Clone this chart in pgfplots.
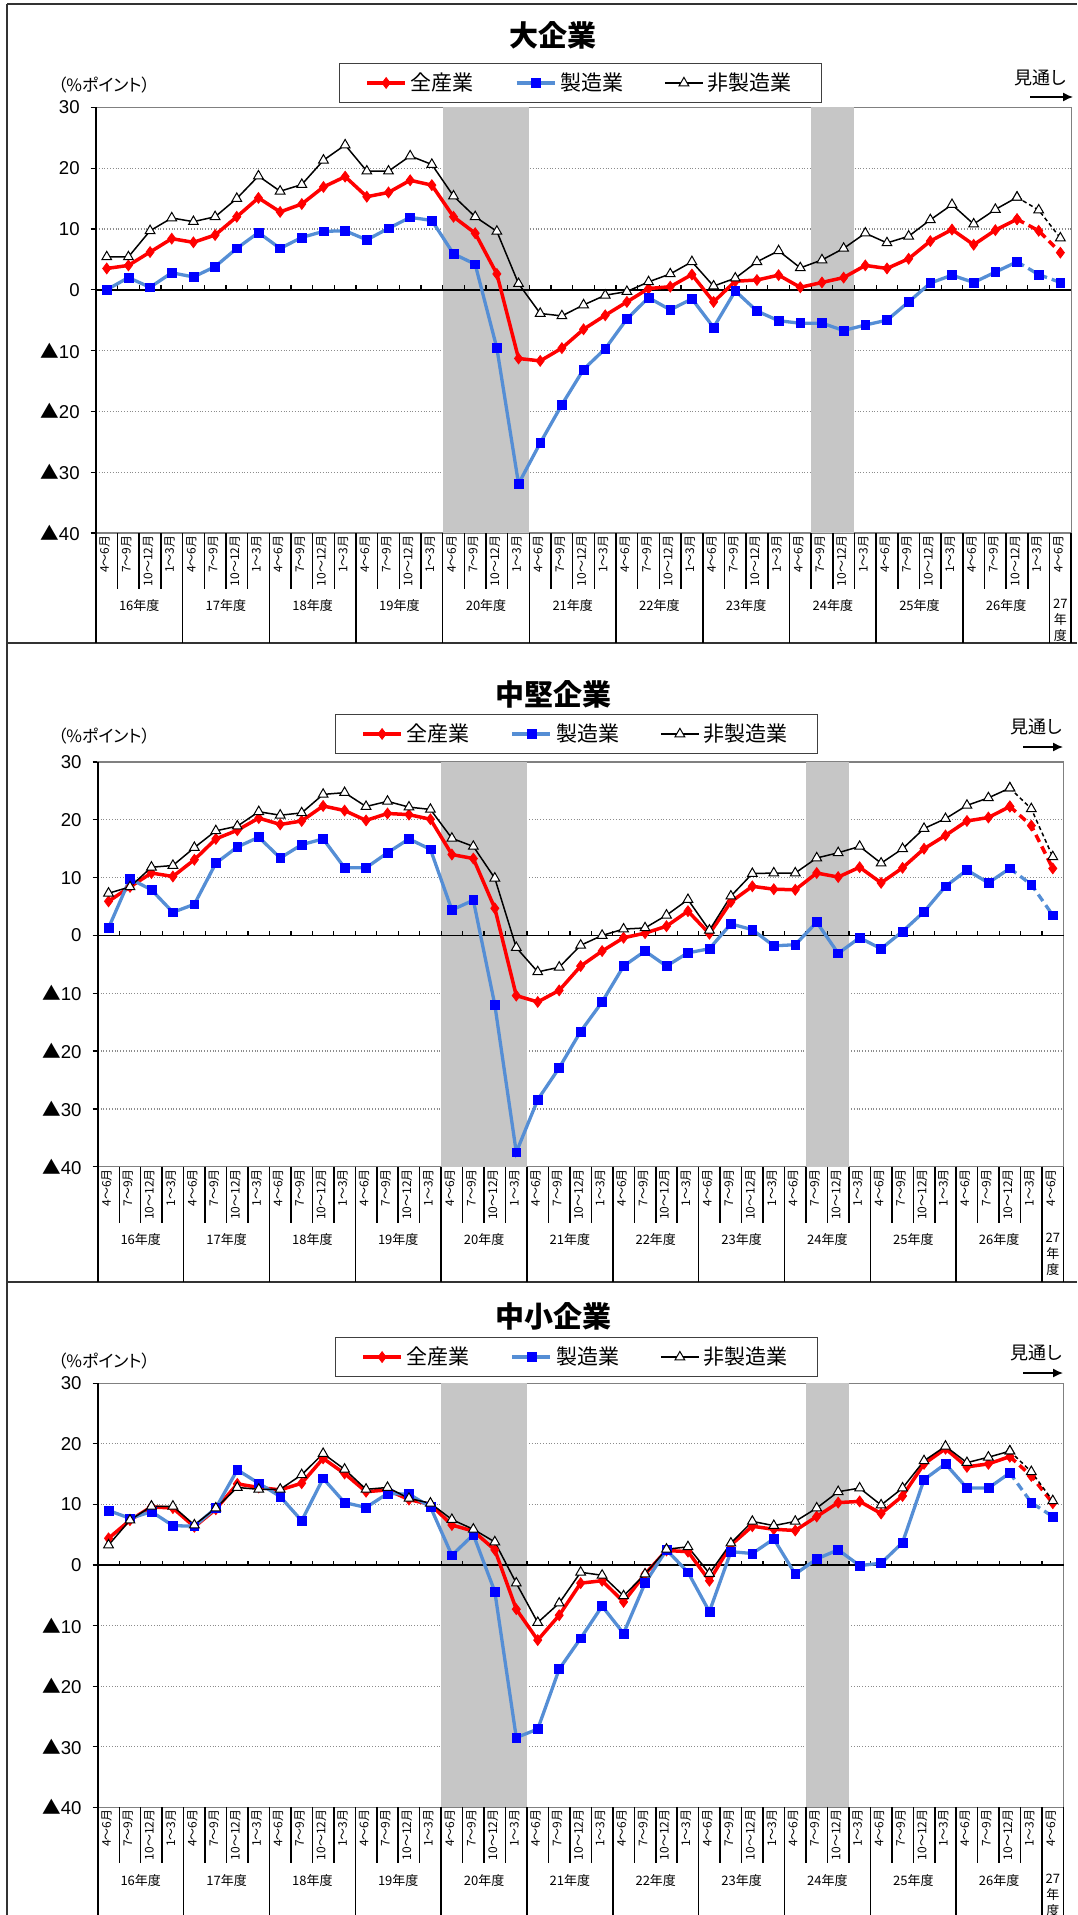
\documentclass[border=0pt]{standalone}
\usepackage{fontspec}
\setmainfont{Liberation Sans}
\newfontfamily\jp{Noto Sans CJK JP}[RawFeature=+palt]
\usepackage{pgfplots}
\pgfplotsset{compat=1.18}
\usepackage{pgfplotstable}
\usetikzlibrary{arrows.meta}

\definecolor{redl}{RGB}{255,0,0}
\definecolor{bluel}{RGB}{85,142,213}
\definecolor{bluem}{RGB}{0,0,255}
\definecolor{bandc}{RGB}{198,198,198}

% x = category centre (i+0.5); a = 全産業, m = 製造業, n = 非製造業
\pgfplotstableread{
x a m n
0.5 3.5 0.0 5.4
1.5 4.0 2.0 5.4
2.5 6.2 0.4 9.7
3.5 8.4 2.8 11.8
4.5 7.8 2.1 11.2
5.5 9.0 3.8 12.0
6.5 12.0 6.8 15.0
7.5 15.1 9.4 18.7
8.5 12.8 6.8 16.2
9.5 14.1 8.6 17.3
10.5 16.9 9.6 21.3
11.5 18.6 9.7 23.8
12.5 15.3 8.2 19.5
13.5 16.0 10.1 19.5
14.5 18.0 11.9 22.0
15.5 17.2 11.4 20.6
16.5 12.0 5.9 15.4
17.5 9.3 4.2 12.0
18.5 2.6 -9.6 9.6
19.5 -11.3 -31.9 1.0
20.5 -11.7 -25.2 -3.9
21.5 -9.6 -18.9 -4.3
22.5 -6.5 -13.1 -2.5
23.5 -4.2 -9.7 -0.9
24.5 -2.0 -4.8 -0.3
25.5 0.2 -1.3 1.3
26.5 0.5 -3.3 2.6
27.5 2.5 -1.5 4.6
28.5 -2.0 -6.2 0.6
29.5 1.4 -0.2 1.9
30.5 1.6 -3.5 4.6
31.5 2.4 -5.1 6.4
32.5 0.4 -5.5 3.6
33.5 1.2 -5.5 4.9
34.5 2.0 -6.7 6.8
35.5 4.0 -5.8 9.3
36.5 3.5 -5.0 7.7
37.5 5.1 -2.0 8.8
38.5 8.0 1.1 11.5
39.5 9.9 2.4 14.0
40.5 7.4 1.2 10.8
41.5 9.8 2.9 13.2
42.5 11.6 4.6 15.2
43.5 9.7 2.5 13.1
44.5 6.1 1.2 8.5
}\tabA

\pgfplotstableread{
x a m n
0.5 5.9 1.3 7.3
1.5 8.4 9.8 8.4
2.5 10.8 7.9 11.8
3.5 10.2 4.0 12.1
4.5 13.1 5.4 15.2
5.5 16.7 12.5 18.1
6.5 18.2 15.3 18.9
7.5 20.3 17.0 21.4
8.5 19.2 13.4 20.8
9.5 19.8 15.7 21.2
10.5 22.4 16.7 24.4
11.5 21.6 11.7 24.7
12.5 19.9 11.7 22.3
13.5 21.1 14.3 23.2
14.5 20.9 16.7 22.2
15.5 20.1 14.9 21.8
16.5 14.0 4.4 16.8
17.5 13.3 6.1 15.4
18.5 4.7 -12.0 9.9
19.5 -10.4 -37.5 -2.1
20.5 -11.5 -28.4 -6.3
21.5 -9.5 -22.9 -5.5
22.5 -5.3 -16.6 -1.7
23.5 -2.7 -11.5 0.0
24.5 -0.4 -5.3 1.1
25.5 0.4 -2.7 1.3
26.5 1.6 -5.3 3.5
27.5 4.2 -3.0 6.2
28.5 0.3 -2.3 0.9
29.5 5.8 2.0 6.8
30.5 8.5 1.0 10.7
31.5 8.0 -1.8 10.8
32.5 7.9 -1.6 10.8
33.5 10.8 2.3 13.4
34.5 10.1 -3.1 14.3
35.5 11.8 -0.4 15.4
36.5 9.1 -2.3 12.5
37.5 11.7 0.7 15.0
38.5 15.0 4.1 18.5
39.5 17.3 8.5 20.2
40.5 19.8 11.3 22.5
41.5 20.4 9.1 23.8
42.5 22.3 11.6 25.5
43.5 19.0 8.8 21.9
44.5 11.6 3.5 13.6
}\tabB

\pgfplotstableread{
x a m n
0.5 4.4 9.0 3.3
1.5 7.4 7.7 7.4
2.5 9.6 8.8 9.7
3.5 9.4 6.5 9.7
4.5 6.3 6.4 6.6
5.5 9.2 9.4 9.4
6.5 13.4 15.7 12.8
7.5 12.8 13.5 12.5
8.5 12.4 11.3 12.5
9.5 13.5 7.3 14.9
10.5 17.6 14.3 18.4
11.5 15.1 10.3 15.8
12.5 12.1 9.5 12.5
13.5 12.4 11.8 12.8
14.5 10.8 11.7 11.0
15.5 10.0 9.6 10.2
16.5 6.6 1.6 7.5
17.5 5.6 5.0 5.9
18.5 2.5 -4.4 3.8
19.5 -7.3 -28.5 -3.0
20.5 -12.4 -27.1 -9.5
21.5 -8.3 -17.2 -6.3
22.5 -3.0 -12.1 -1.2
23.5 -2.6 -6.8 -1.7
24.5 -6.1 -11.3 -5.1
25.5 -1.5 -3.0 -1.5
26.5 2.4 2.5 2.6
27.5 2.2 -1.2 3.0
28.5 -2.6 -7.7 -1.4
29.5 3.3 2.2 3.6
30.5 6.4 1.9 7.2
31.5 5.9 4.3 6.5
32.5 5.7 -1.5 7.2
33.5 8.0 1.0 9.4
34.5 10.3 2.5 12.1
35.5 10.5 -0.1 12.7
36.5 8.5 0.3 9.9
37.5 11.4 3.7 12.7
38.5 16.7 14.1 17.2
39.5 19.2 16.7 19.6
40.5 16.2 12.7 16.9
41.5 16.7 12.7 17.8
42.5 17.9 15.2 18.8
43.5 14.7 10.3 15.4
44.5 10.2 8.0 10.6
}\tabC

\pgfplotsset{
  panel/.style={
    scale only axis, clip=false,
    xmin=0, xmax=45, ymin=-40, ymax=30,
    axis line style={draw=black!50, line width=0.6pt},
    ytick={-40,-30,...,30},
    yticklabels={{\jp ▲}40,{\jp ▲}30,{\jp ▲}20,{\jp ▲}10,0,10,20,30},
    ytick pos=left, ytick align=outside, major tick length=2.6pt,
    major tick style={black, line width=0.6pt},
    ymajorgrids, grid style={densely dotted, black!45, line width=0.6pt},
    yticklabel style={font=\fontsize{9.3}{10}\selectfont, xshift=-2pt},
    xtick={0.5,1.5,...,44.5},
    xticklabels={4～6月,7～9月,10～12月,1～3月,4～6月,7～9月,10～12月,1～3月,4～6月,7～9月,10～12月,1～3月,4～6月,7～9月,10～12月,1～3月,4～6月,7～9月,10～12月,1～3月,4～6月,7～9月,10～12月,1～3月,4～6月,7～9月,10～12月,1～3月,4～6月,7～9月,10～12月,1～3月,4～6月,7～9月,10～12月,1～3月,4～6月,7～9月,10～12月,1～3月,4～6月,7～9月,10～12月,1～3月,4～6月},
    major x tick style={draw=none},
    xticklabel style={rotate=90, anchor=east, font=\jp\fontsize{6}{6}\selectfont, inner sep=1pt, yshift=1pt},
    legend columns=3,
    legend image code/.code={\draw[mark repeat=2,mark phase=2] plot coordinates {(0pt,0pt)(9.5pt,0pt)(19pt,0pt)};},
    legend style={anchor=north, draw=black!75, line width=0.6pt, fill=white,
      inner xsep=13pt, inner ysep=2.5pt,
      font=\jp\fontsize{10.5}{12}\selectfont,
      cells={anchor=west},
      /tikz/every even column/.append style={column sep=18.5pt}},
  }
}

\newcommand{\yearlabels}{%
  \node[font=\jp\fontsize{6.5}{7}\selectfont] at ([yshift=-36.5pt]axis cs:2,-40) {16年度};
  \node[font=\jp\fontsize{6.5}{7}\selectfont] at ([yshift=-36.5pt]axis cs:6,-40) {17年度};
  \node[font=\jp\fontsize{6.5}{7}\selectfont] at ([yshift=-36.5pt]axis cs:10,-40) {18年度};
  \node[font=\jp\fontsize{6.5}{7}\selectfont] at ([yshift=-36.5pt]axis cs:14,-40) {19年度};
  \node[font=\jp\fontsize{6.5}{7}\selectfont] at ([yshift=-36.5pt]axis cs:18,-40) {20年度};
  \node[font=\jp\fontsize{6.5}{7}\selectfont] at ([yshift=-36.5pt]axis cs:22,-40) {21年度};
  \node[font=\jp\fontsize{6.5}{7}\selectfont] at ([yshift=-36.5pt]axis cs:26,-40) {22年度};
  \node[font=\jp\fontsize{6.5}{7}\selectfont] at ([yshift=-36.5pt]axis cs:30,-40) {23年度};
  \node[font=\jp\fontsize{6.5}{7}\selectfont] at ([yshift=-36.5pt]axis cs:34,-40) {24年度};
  \node[font=\jp\fontsize{6.5}{7}\selectfont] at ([yshift=-36.5pt]axis cs:38,-40) {25年度};
  \node[font=\jp\fontsize{6.5}{7}\selectfont] at ([yshift=-36.5pt]axis cs:42,-40) {26年度};
  \node[font=\jp\fontsize{6.5}{8}\selectfont, align=center, anchor=north, inner sep=0pt] at ([yshift=-33pt]axis cs:44.5,-40) {27\\年\\度};
}

\newcommand{\panelbody}[2]{%
  \fill[bandc] (axis cs:16,-40) rectangle (axis cs:20,30);
  \fill[bandc] (axis cs:33,-40) rectangle (axis cs:35,30);
  \draw[black, line width=0.9pt] (axis cs:0,0) -- (axis cs:45,0);
  \pgfplotsinvokeforeach{1,...,44}{\draw[black, line width=0.6pt] (axis cs:##1,0) -- ([yshift=2.2pt]axis cs:##1,0);}
  \draw[black, line width=0.8pt] (axis cs:0,-40) -- (axis cs:0,30);
  \pgfplotsinvokeforeach{0,...,45}{\draw[black, line width=0.75pt] (axis cs:##1,-40) -- ([yshift=-28pt]axis cs:##1,-40);}
  \pgfplotsinvokeforeach{0,4,...,44}{\draw[black, line width=0.75pt] (axis cs:##1,-40) -- ([yshift=-#2]axis cs:##1,-40);}
  \draw[black, line width=0.75pt] (axis cs:45,-40) -- ([yshift=-#2]axis cs:45,-40);
  \yearlabels
  % 全産業
  \addplot[redl, line width=1.75pt, mark=diamond*, mark size=2.7pt,
    mark options={solid, fill=redl, draw=redl, line width=0.4pt},
    skip coords between index={43}{45}] table[x=x, y=a] {#1};
  \addlegendentry{全産業}
  \addplot[redl, line width=1.75pt, dash pattern=on 4pt off 2.5pt, mark=diamond*, mark size=2.7pt,
    mark options={solid, fill=redl, draw=redl, line width=0.4pt},
    skip coords between index={0}{42}, forget plot] table[x=x, y=a] {#1};
  % 製造業
  \addplot[bluel, line width=1.65pt, mark=square*, mark size=2.2pt,
    mark options={solid, fill=bluem, draw=bluem, line width=0.3pt},
    skip coords between index={43}{45}] table[x=x, y=m] {#1};
  \addlegendentry{製造業}
  \addplot[bluel, line width=1.65pt, dash pattern=on 4pt off 2.5pt, mark=square*, mark size=2.2pt,
    mark options={solid, fill=bluem, draw=bluem, line width=0.3pt},
    skip coords between index={0}{42}, forget plot] table[x=x, y=m] {#1};
  % 非製造業
  \addplot[black, line width=0.75pt, mark=triangle*, mark size=2.8pt,
    mark options={solid, fill=white, draw=black, line width=0.5pt},
    skip coords between index={43}{45}] table[x=x, y=n] {#1};
  \addlegendentry{非製造業}
  \addplot[black, line width=0.75pt, dash pattern=on 2pt off 1.5pt, mark=triangle*, mark size=2.8pt,
    mark options={solid, fill=white, draw=black, line width=0.5pt},
    skip coords between index={0}{42}, forget plot] table[x=x, y=n] {#1};
}

\begin{document}
\begin{tikzpicture}
\useasboundingbox (0pt,0pt) rectangle (538.5pt,-957.5pt);

% outer frame
\draw[black!80, line width=0.6pt] (3.5pt,-2pt) -- (538.5pt,-2pt);
\draw[black!80, line width=0.6pt] (3.5pt,-2pt) -- (3.5pt,-957.5pt);
\draw[black!80, line width=0.6pt] (3.5pt,-321.5pt) -- (538.5pt,-321.5pt);
\draw[black!80, line width=0.6pt] (3.5pt,-641pt) -- (538.5pt,-641pt);

% ---------- panel 1 ----------
\begin{axis}[panel, width=487.65pt, height=212.85pt, anchor=south west, at={(47.95pt,-266.5pt)},
  legend style={at={(0.4969,1.104)}}]
\panelbody{\tabA}{55pt}
\end{axis}
\node[font=\jp\bfseries\fontsize{14.5}{16}\selectfont] at (276.5pt,-17.5pt) {大企業};
\node[font=\jp\fontsize{8.5}{9}\selectfont] at (52pt,-42.5pt) {（\%ポイント）};
\node[font=\jp\fontsize{9}{10}\selectfont] at (520pt,-39pt) {見通し};
\draw[-{Latex[length=5pt,width=4.5pt]}, line width=0.7pt] (515pt,-48.5pt) -- (536.5pt,-48.5pt);

% ---------- panel 2 ----------
\begin{axis}[panel, width=482.85pt, height=202.35pt, anchor=south west, at={(48.9pt,-583.35pt)},
  legend style={at={(0.4957,1.1186)}}]
\panelbody{\tabB}{57.5pt}
\end{axis}
\node[font=\jp\bfseries\fontsize{14.5}{16}\selectfont] at (276.5pt,-347pt) {中堅企業};
\node[font=\jp\fontsize{8.5}{9}\selectfont] at (52pt,-368pt) {（\%ポイント）};
\node[font=\jp\fontsize{9}{10}\selectfont] at (518pt,-363.5pt) {見通し};
\draw[-{Latex[length=5pt,width=4.5pt]}, line width=0.7pt] (511.5pt,-373.5pt) -- (531.5pt,-373.5pt);

% ---------- panel 3 ----------
\begin{axis}[panel, width=482.85pt, height=211.95pt, anchor=south west, at={(48.9pt,-903.6pt)},
  legend style={at={(0.4957,1.109)}}]
\panelbody{\tabC}{54pt}
\end{axis}
\node[font=\jp\bfseries\fontsize{14.5}{16}\selectfont] at (276.5pt,-658pt) {中小企業};
\node[font=\jp\fontsize{8.5}{9}\selectfont] at (52pt,-680.5pt) {（\%ポイント）};
\node[font=\jp\fontsize{9}{10}\selectfont] at (518pt,-676.5pt) {見通し};
\draw[-{Latex[length=5pt,width=4.5pt]}, line width=0.7pt] (511.5pt,-686.5pt) -- (531.5pt,-686.5pt);
\end{tikzpicture}
\end{document}
